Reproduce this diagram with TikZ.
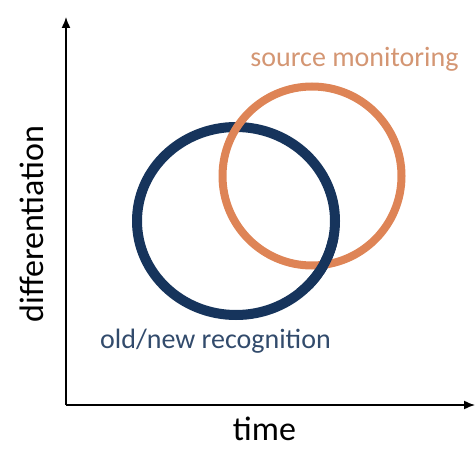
\documentclass[tikz,border=0pt]{standalone}
\usepackage{fontspec}
\setmainfont{Carlito}
\usetikzlibrary{arrows.meta}
\definecolor{navy}{RGB}{22,52,92}
\definecolor{navytext}{RGB}{50,75,108}
\definecolor{rust}{RGB}{222,132,86}
\definecolor{rusttext}{RGB}{212,150,115}
\tikzset{
	axislabel/.style={font=\fontsize{34}{40}\selectfont,inner sep=0pt},
	ringlabel/.style={font=\fontsize{28}{33}\selectfont,inner sep=0pt,anchor=base}
}

\begin{document}
\begin{tikzpicture}[x=1pt,y=1pt]
\useasboundingbox (0,0) rectangle (476,448);

%axis
\coordinate (origin) at (66,43);
\coordinate (ytop) at (66,431);
\coordinate (xend) at (475,43);
\draw[line width=1.5pt,-{Latex[length=11pt,width=9pt]}] (origin) -- (ytop);
\draw[line width=1.5pt,-{Latex[length=11pt,width=9pt]}] (origin) -- (xend);
\node[axislabel,anchor=base] (time) at (264.5,8) {time};
\node[axislabel,anchor=base,rotate=90] (diff) at (43,224) {differentiation};

% rings
\draw[navy,line width=10pt] (236,227) ellipse [x radius=99,y radius=94];
\draw[rust,line width=8pt] (312,272) circle (89.5);
\begin{scope}
	\clip (295,160) rectangle (355,210);
	\draw[navy,line width=10pt] (236,227) ellipse [x radius=99,y radius=94];
\end{scope}

% labels
\node[ringlabel,text=rusttext] (source) at (354.5,381) {source monitoring};
\node[ringlabel,text=navytext] (oldnew) at (215.5,100) {old/new recognition};

\end{tikzpicture}
\end{document}
